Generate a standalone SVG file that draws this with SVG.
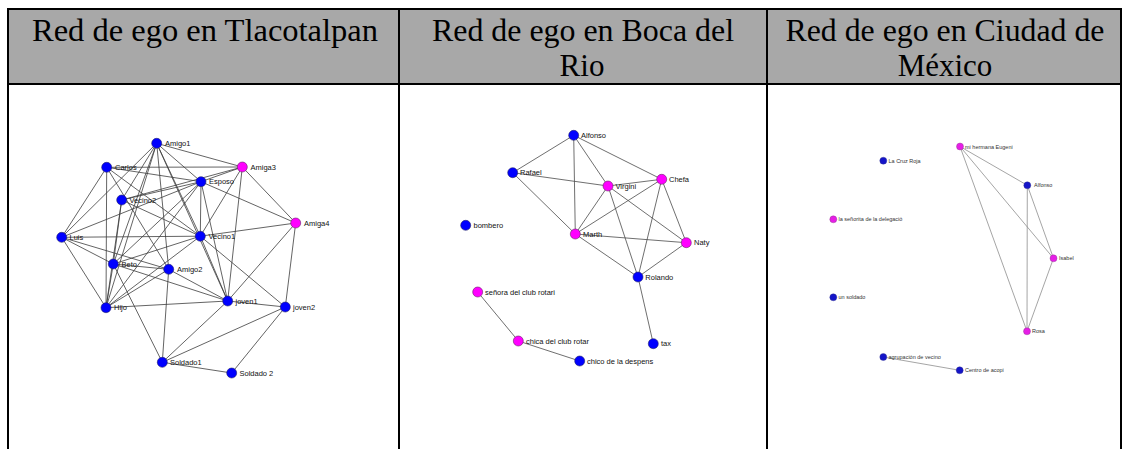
<svg xmlns="http://www.w3.org/2000/svg" width="1129" height="449" viewBox="0 0 1129 449">
<style>
.hdr{font-family:'Liberation Serif','Times New Roman','DejaVu Serif',serif;font-size:31px;fill:#000;text-anchor:middle}
.grid{stroke:#000;stroke-width:2;fill:none}
.e1{stroke:#3c3c3c;stroke-width:0.8}
.e2{stroke:#4a4a4a;stroke-width:0.8}
.e3{stroke:#8e8e8e;stroke-width:0.8}
.b{fill:#0000ff;stroke:#22226a;stroke-width:0.6}
.m{fill:#ff00ff;stroke:#6a226a;stroke-width:0.6}
.b3{fill:#1414c8;stroke:#3a3a8a;stroke-width:0.4}
.m3{fill:#e61ee6;stroke:#8a3a8a;stroke-width:0.4}
.t{font-family:'Liberation Sans',Arial,sans-serif;font-size:7.5px;fill:#111}
.t3{font-family:'Liberation Sans',Arial,sans-serif;font-size:5.5px;fill:#333}
</style>
<rect x="0" y="0" width="1129" height="449" fill="#fff"/>
<g id="table">
<rect x="8" y="9" width="1113" height="75" fill="#a8a8a8"/>
<line class="grid" x1="7" y1="9" x2="1122" y2="9"/>
<line class="grid" x1="7" y1="84" x2="1122" y2="84"/>
<line class="grid" x1="8" y1="8" x2="8" y2="449"/>
<line class="grid" x1="399" y1="8" x2="399" y2="449"/>
<line class="grid" x1="767" y1="8" x2="767" y2="449"/>
<line class="grid" x1="1121" y1="8" x2="1121" y2="449"/>
<text class="hdr" x="205" y="41" textLength="346" lengthAdjust="spacingAndGlyphs">Red de ego en Tlacotalpan</text>
<text class="hdr" x="583" y="41" textLength="302" lengthAdjust="spacingAndGlyphs">Red de ego en Boca del</text>
<text class="hdr" x="582" y="75.5">Rio</text>
<text class="hdr" x="945" y="41" textLength="319" lengthAdjust="spacingAndGlyphs">Red de ego en Ciudad de</text>
<text class="hdr" x="945" y="75.5">México</text>
</g>
<g id="connectors">
<g class="e1">
<line x1="156.7" y1="143.3" x2="242.3" y2="167"/>
<line x1="156.7" y1="143.3" x2="201" y2="181.7"/>
<line x1="156.7" y1="143.3" x2="200.3" y2="236.2"/>
<line x1="156.7" y1="143.3" x2="168.7" y2="269.3"/>
<line x1="156.7" y1="143.3" x2="61.7" y2="237.3"/>
<line x1="156.7" y1="143.3" x2="121.7" y2="200"/>
<line x1="156.7" y1="143.3" x2="113.3" y2="264"/>
<line x1="156.7" y1="143.3" x2="106" y2="307.7"/>
<line x1="156.7" y1="143.3" x2="227.7" y2="301"/>
<line x1="106.7" y1="167.3" x2="242.3" y2="167"/>
<line x1="106.7" y1="167.3" x2="201" y2="181.7"/>
<line x1="106.7" y1="167.3" x2="61.7" y2="237.3"/>
<line x1="106.7" y1="167.3" x2="106" y2="307.7"/>
<line x1="106.7" y1="167.3" x2="200.3" y2="236.2"/>
<line x1="106.7" y1="167.3" x2="168.7" y2="269.3"/>
<line x1="201" y1="181.7" x2="242.3" y2="167"/>
<line x1="201" y1="181.7" x2="295.7" y2="223"/>
<line x1="201" y1="181.7" x2="200.3" y2="236.2"/>
<line x1="201" y1="181.7" x2="121.7" y2="200"/>
<line x1="201" y1="181.7" x2="61.7" y2="237.3"/>
<line x1="201" y1="181.7" x2="113.3" y2="264"/>
<line x1="201" y1="181.7" x2="106" y2="307.7"/>
<line x1="201" y1="181.7" x2="227.7" y2="301"/>
<line x1="121.7" y1="200" x2="242.3" y2="167"/>
<line x1="242.3" y1="167" x2="295.7" y2="223"/>
<line x1="242.3" y1="167" x2="200.3" y2="236.2"/>
<line x1="242.3" y1="167" x2="227.7" y2="301"/>
<line x1="295.7" y1="223" x2="200.3" y2="236.2"/>
<line x1="295.7" y1="223" x2="227.7" y2="301"/>
<line x1="295.7" y1="223" x2="285.3" y2="307"/>
<line x1="200.3" y1="236.2" x2="227.7" y2="301"/>
<line x1="200.3" y1="236.2" x2="285.3" y2="307"/>
<line x1="200.3" y1="236.2" x2="61.7" y2="237.3"/>
<line x1="200.3" y1="236.2" x2="113.3" y2="264"/>
<line x1="200.3" y1="236.2" x2="106" y2="307.7"/>
<line x1="200.3" y1="236.2" x2="121.7" y2="200"/>
<line x1="61.7" y1="237.3" x2="106" y2="307.7"/>
<line x1="61.7" y1="237.3" x2="113.3" y2="264"/>
<line x1="61.7" y1="237.3" x2="168.7" y2="269.3"/>
<line x1="113.3" y1="264" x2="106" y2="307.7"/>
<line x1="113.3" y1="264" x2="168.7" y2="269.3"/>
<line x1="113.3" y1="264" x2="162.3" y2="362.3"/>
<line x1="113.3" y1="264" x2="227.7" y2="301"/>
<line x1="121.7" y1="200" x2="113.3" y2="264"/>
<line x1="121.7" y1="200" x2="106" y2="307.7"/>
<line x1="168.7" y1="269.3" x2="106" y2="307.7"/>
<line x1="168.7" y1="269.3" x2="162.3" y2="362.3"/>
<line x1="168.7" y1="269.3" x2="227.7" y2="301"/>
<line x1="106" y1="307.7" x2="227.7" y2="301"/>
<line x1="227.7" y1="301" x2="285.3" y2="307"/>
<line x1="227.7" y1="301" x2="162.3" y2="362.3"/>
<line x1="285.3" y1="307" x2="162.3" y2="362.3"/>
<line x1="285.3" y1="307" x2="231.7" y2="373"/>
<line x1="162.3" y1="362.3" x2="231.7" y2="373"/>
</g>
<g class="e2">
<line x1="573.7" y1="135.3" x2="512.7" y2="172.7"/>
<line x1="573.7" y1="135.3" x2="575.3" y2="234"/>
<line x1="573.7" y1="135.3" x2="608" y2="186"/>
<line x1="573.7" y1="135.3" x2="661.7" y2="179.3"/>
<line x1="512.7" y1="172.7" x2="608" y2="186"/>
<line x1="512.7" y1="172.7" x2="575.3" y2="234"/>
<line x1="608" y1="186" x2="575.3" y2="234"/>
<line x1="608" y1="186" x2="661.7" y2="179.3"/>
<line x1="608" y1="186" x2="686.3" y2="242.7"/>
<line x1="608" y1="186" x2="638" y2="277"/>
<line x1="661.7" y1="179.3" x2="575.3" y2="234"/>
<line x1="661.7" y1="179.3" x2="686.3" y2="242.7"/>
<line x1="661.7" y1="179.3" x2="638" y2="277"/>
<line x1="575.3" y1="234" x2="686.3" y2="242.7"/>
<line x1="575.3" y1="234" x2="638" y2="277"/>
<line x1="686.3" y1="242.7" x2="638" y2="277"/>
<line x1="638" y1="277" x2="653.3" y2="343.7"/>
<line x1="477.7" y1="292" x2="518.3" y2="341"/>
<line x1="518.3" y1="341" x2="579.7" y2="361"/>
</g>
<g class="e3">
<line x1="960" y1="146.5" x2="1027.3" y2="185.3"/>
<line x1="960" y1="146.5" x2="1053.5" y2="258.3"/>
<line x1="960" y1="146.5" x2="1027" y2="331.3"/>
<line x1="1027.3" y1="185.3" x2="1053.5" y2="258.3"/>
<line x1="1027.3" y1="185.3" x2="1027" y2="331.3"/>
<line x1="1053.5" y1="258.3" x2="1027" y2="331.3"/>
<line x1="883.3" y1="357" x2="959.7" y2="370.3"/>
</g>
</g>
<g id="n-amigo1"><circle class="b" cx="156.7" cy="143.3" r="5"/><text class="t" x="165" y="146">Amigo1</text></g>
<g id="n-carlos"><circle class="b" cx="106.7" cy="167.3" r="5"/><text class="t" x="115" y="170">Carlos</text></g>
<g id="n-esposo"><circle class="b" cx="201" cy="181.7" r="5"/><text class="t" x="209" y="184.4">Esposo</text></g>
<g id="n-amiga3"><circle class="m" cx="242.3" cy="167" r="5"/><text class="t" x="250.5" y="169.7">Amiga3</text></g>
<g id="n-vecino2"><circle class="b" cx="121.7" cy="200" r="5"/><text class="t" x="129.5" y="202.7">Vecino2</text></g>
<g id="n-luis"><circle class="b" cx="61.7" cy="237.3" r="5"/><text class="t" x="69.5" y="240">Luis</text></g>
<g id="n-vecino1"><circle class="b" cx="200.3" cy="236.2" r="5"/><text class="t" x="208.5" y="239">Vecino1</text></g>
<g id="n-amiga4"><circle class="m" cx="295.7" cy="223" r="5"/><text class="t" x="304" y="225.7">Amiga4</text></g>
<g id="n-beto"><circle class="b" cx="113.3" cy="264" r="5"/><text class="t" x="121.5" y="266.7">Beto</text></g>
<g id="n-amigo2"><circle class="b" cx="168.7" cy="269.3" r="5"/><text class="t" x="177" y="272">Amigo2</text></g>
<g id="n-hijo"><circle class="b" cx="106" cy="307.7" r="5"/><text class="t" x="114" y="310.4">Hijo</text></g>
<g id="n-joven1"><circle class="b" cx="227.7" cy="301" r="5"/><text class="t" x="235.5" y="303.7">joven1</text></g>
<g id="n-joven2"><circle class="b" cx="285.3" cy="307" r="5"/><text class="t" x="293" y="309.7">joven2</text></g>
<g id="n-soldado1"><circle class="b" cx="162.3" cy="362.3" r="5"/><text class="t" x="170" y="365">Soldado1</text></g>
<g id="n-soldado2"><circle class="b" cx="231.7" cy="373" r="5"/><text class="t" x="239.5" y="375.7">Soldado 2</text></g>
<g id="n-alfonso"><circle class="b" cx="573.7" cy="135.3" r="5"/><text class="t" x="581" y="138">Alfonso</text></g>
<g id="n-rafael"><circle class="b" cx="512.7" cy="172.7" r="5"/><text class="t" x="520" y="175.4">Rafael</text></g>
<g id="n-virginia"><circle class="m" cx="608" cy="186" r="5"/><text class="t" x="615.5" y="188.7">Virgini</text></g>
<g id="n-chefa"><circle class="m" cx="661.7" cy="179.3" r="5"/><text class="t" x="669" y="182">Chefa</text></g>
<g id="n-bombero"><circle class="b" cx="465.7" cy="225.3" r="5"/><text class="t" x="473.5" y="228">bombero</text></g>
<g id="n-martha"><circle class="m" cx="575.3" cy="234" r="5"/><text class="t" x="583" y="236.7">Marth</text></g>
<g id="n-naty"><circle class="m" cx="686.3" cy="242.7" r="5"/><text class="t" x="694" y="245.4">Naty</text></g>
<g id="n-rolando"><circle class="b" cx="638" cy="277" r="5"/><text class="t" x="645.3" y="279.7">Rolando</text></g>
<g id="n-senora"><circle class="m" cx="477.7" cy="292" r="5"/><text class="t" x="485" y="294.7">señora del club rotari</text></g>
<g id="n-chica"><circle class="m" cx="518.3" cy="341" r="5"/><text class="t" x="526" y="343.7">chica del club rotar</text></g>
<g id="n-tax"><circle class="b" cx="653.3" cy="343.7" r="5"/><text class="t" x="661" y="346.4">tax</text></g>
<g id="n-chico"><circle class="b" cx="579.7" cy="361" r="5"/><text class="t" x="587" y="363.7">chico de la despens</text></g>
<g id="n-hermana"><circle class="m3" cx="960" cy="146.5" r="3.5"/><text class="t3" x="965" y="148.5">mi hermana Eugeni</text></g>
<g id="n-cruzroja"><circle class="b3" cx="883.3" cy="160.7" r="3.5"/><text class="t3" x="888.5" y="162.7">La Cruz Roja</text></g>
<g id="n-alfonso3"><circle class="b3" cx="1027.3" cy="185.3" r="3.5"/><text class="t3" x="1034" y="187.3">Alfonso</text></g>
<g id="n-senorita"><circle class="m3" cx="833.3" cy="219.3" r="3.5"/><text class="t3" x="838.5" y="221.3">la señorita de la delegació</text></g>
<g id="n-isabel"><circle class="m3" cx="1053.5" cy="258.3" r="3.5"/><text class="t3" x="1059" y="260.3">Isabel</text></g>
<g id="n-soldado"><circle class="b3" cx="833.3" cy="297.3" r="3.5"/><text class="t3" x="838.5" y="299.3">un soldado</text></g>
<g id="n-rosa"><circle class="m3" cx="1027" cy="331.3" r="3.5"/><text class="t3" x="1032" y="333.3">Rosa</text></g>
<g id="n-agrupacion"><circle class="b3" cx="883.3" cy="357" r="3.5"/><text class="t3" x="888.5" y="359">agrupación de vecino</text></g>
<g id="n-centro"><circle class="b3" cx="959.7" cy="370.3" r="3.5"/><text class="t3" x="965" y="372.3">Centro de acopi</text></g>
</svg>
